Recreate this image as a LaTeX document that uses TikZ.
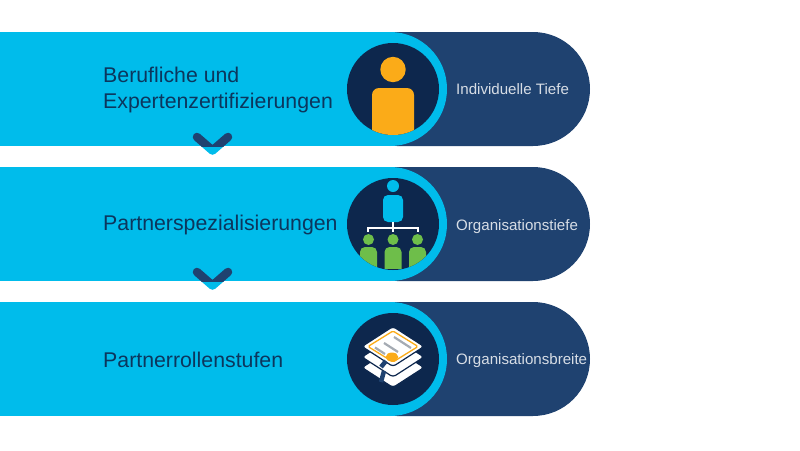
\documentclass[tikz,border=0pt]{standalone}
\usepackage{fontspec}
\setmainfont{Liberation Sans}
\definecolor{bandcyan}{HTML}{00BCEB}
\definecolor{banddark}{HTML}{1F4270}
\definecolor{iconnavy}{HTML}{0D274D}
\definecolor{iconorange}{HTML}{FBAB18}
\definecolor{icongreen}{HTML}{6EBE4A}
\definecolor{icongrey}{HTML}{A5ABB3}
\tikzset{
  title text/.style={anchor=west,align=left,text=iconnavy!90!bandcyan,font=\fontsize{21.3}{26}\selectfont,inner sep=0pt},
  side text/.style={anchor=west,text=white!82!banddark,font=\fontsize{15.1}{16}\selectfont,inner sep=0pt},
  layer/.style={fill=white,draw=iconnavy,line width=1.2pt,rounded corners=3pt}
}
\begin{document}
\begin{tikzpicture}[x=1pt,y=-1pt]
	\useasboundingbox (0,0) rectangle (800,450);

	% Draw the three bands
	\foreach \top in {32,167,302} {
		\fill [banddark,rounded corners=57pt] (340,\top) rectangle (590,\top+114);
		\fill [bandcyan] (0,\top) rectangle (390,\top+114);
		\fill [bandcyan] (390,\top+57) circle [radius=57pt];
		\fill [iconnavy] (393,\top+57) circle [radius=46pt];
	}

	% Chevrons between the bands
	\foreach \top in {146,281} {
		\draw [bandcyan,line width=8.5pt,line cap=round,line join=round]
			(197,\top-9) -- (212.5,\top+4.5) -- (228,\top-9);
		\begin{scope}
			\clip (180,\top-20) rectangle (245,\top);
			\draw [banddark,line width=8.5pt,line cap=round,line join=round]
				(197,\top-9) -- (212.5,\top+4.5) -- (228,\top-9);
		\end{scope}
	}

	% Texts
	\node [title text] (berufe) at (103,90) {Berufliche und\\Expertenzertifizierungen};
	\node [title text] (spezial) at (103,225) {Partnerspezialisierungen};
	\node [title text] (rollen) at (103,360) {Partnerrollenstufen};
	\node [side text] (tiefe) at (456,89) {Individuelle Tiefe};
	\node [side text] (orgtiefe) at (456,227) {Organisationstiefe};
	\node [side text] (orgbreite) at (456,361) {Organisationsbreite};

	% The person
	\fill [iconorange] (393,69.5) circle [radius=12.7pt];
	\begin{scope}
		\clip (393,89) circle [radius=46pt];
		\fill [iconorange,rounded corners=7pt] (372,88) rectangle (414,150);
	\end{scope}

	% The team
	\fill [bandcyan] (393,186) circle [radius=6pt];
	\fill [bandcyan,rounded corners=5pt] (383,195) rectangle (403,222);
	\draw [white,line width=1.5pt] (368,232) -- (368,228) -- (418,228) -- (418,232);
	\draw [white,line width=1.5pt] (393,222) -- (393,232);
	\begin{scope}
		\clip (393,224) circle [radius=46pt];
		\clip (350,232) rectangle (436,268);
		\foreach \x in {368.5,393,417.5} {
			\fill [icongreen] (\x,239.5) circle [radius=5.5pt];
			\fill [icongreen,rounded corners=5pt] (\x-8.5,247) rectangle (\x+8.5,280);
		}
	\end{scope}

	% The stack of papers
	\foreach \shift in {21,10.5,0} {
		\draw [layer] (393,326.5+\shift) -- (424,346.5+\shift) -- (393,366.5+\shift) -- (362,346.5+\shift) -- cycle;
	}
	\draw [iconorange,line width=1.3pt,rounded corners=1.5pt] (393,331) -- (418,346.5) -- (393,362) -- (368,346.5) -- cycle;
	\draw [icongrey,line width=2.2pt] (375,347.5) -- (385,354);
	\draw [icongrey,line width=2.2pt] (384,343) -- (398,352);
	\draw [icongrey,line width=2.2pt] (394,337) -- (411,348);
	\draw [banddark,line width=4.5pt] (386,361) -- (381,367);
	\draw [banddark,line width=4.5pt] (384,371) -- (381,382);
	\fill [iconorange] (392,357) ellipse [x radius=6.3pt,y radius=4.5pt];
\end{tikzpicture}
\end{document}
